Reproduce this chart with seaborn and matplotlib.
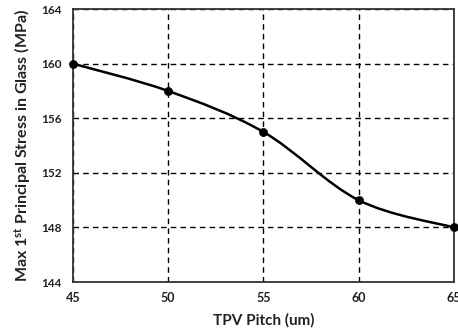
import numpy as np
import pandas as pd
import matplotlib
matplotlib.use("Agg")
import matplotlib.pyplot as plt
from matplotlib.path import Path
from matplotlib.patches import PathPatch
import seaborn as sns

pitch = [45, 50, 55, 60, 65]
stress = [160, 158, 155, 150, 148]
x_ticks = [45, 50, 55, 60, 65]
y_ticks = [144, 148, 152, 156, 160, 164]

sns.set_style("white")
plt.rcParams['font.family'] = ['Lato', 'DejaVu Sans']
plt.rcParams['mathtext.fontset'] = 'custom'
plt.rcParams['mathtext.rm'] = 'Lato:bold'
plt.rcParams['mathtext.it'] = 'Lato:bold'
plt.rcParams['mathtext.bf'] = 'Lato:bold'

df = pd.DataFrame({"pitch": pitch, "stress": stress})

fig = plt.figure(figsize=(4.58, 3.35), dpi=100)
ax = fig.add_axes([0.159, 0.158, 0.832, 0.815])

# Excel-style smoothed line through the data points (Catmull-Rom -> Bezier)
xs = np.array(pitch, float)
ys = np.array(stress, float)
verts = [(xs[0], ys[0])]
codes = [Path.MOVETO]
n = len(xs)
for i in range(n - 1):
    p0 = (xs[max(i - 1, 0)], ys[max(i - 1, 0)])
    p1 = (xs[i], ys[i])
    p2 = (xs[i + 1], ys[i + 1])
    p3 = (xs[min(i + 2, n - 1)], ys[min(i + 2, n - 1)])
    t = 1 / 6
    c1 = (p1[0] + (p2[0] - p0[0]) * t, p1[1] + (p2[1] - p0[1]) * t)
    c2 = (p2[0] - (p3[0] - p1[0]) * t, p2[1] - (p3[1] - p1[1]) * t)
    verts += [c1, c2, p2]
    codes += [Path.CURVE4] * 3
ax.add_patch(PathPatch(Path(verts, codes), facecolor='none', edgecolor='black',
                       lw=1.8, zorder=3, clip_on=False))

sns.scatterplot(data=df, x="pitch", y="stress", ax=ax, color='black', s=34,
                edgecolor='black', zorder=4, clip_on=False, legend=False)

ax.set_xlim(45, 65)
ax.set_ylim(144, 164)
ax.set_xticks(x_ticks)
ax.set_yticks(y_ticks)
ax.set_xticklabels([str(v) for v in x_ticks], fontsize=9, fontweight='bold', color='#222222')
ax.set_yticklabels([str(v) for v in y_ticks], fontsize=8.5, fontweight='bold', color='#222222')
ax.tick_params(axis='x', length=0, pad=7)
ax.tick_params(axis='y', length=0, pad=8)
ax.grid(True, linestyle=(0, (4, 3)), color='black', lw=1.0)
for s in ax.spines.values():
    s.set_visible(True)
    s.set_color('#333333')
    s.set_linewidth(1.3)

ax.set_xlabel("TPV Pitch (um)", fontsize=11, fontweight='bold', color='#222222', labelpad=7)
ax.set_ylabel("Max 1$^{st}$ Principal Stress in Glass (MPa)", fontsize=11.5,
              fontweight='bold', color='#222222', labelpad=6)

fig.savefig("out.png", dpi=100)
